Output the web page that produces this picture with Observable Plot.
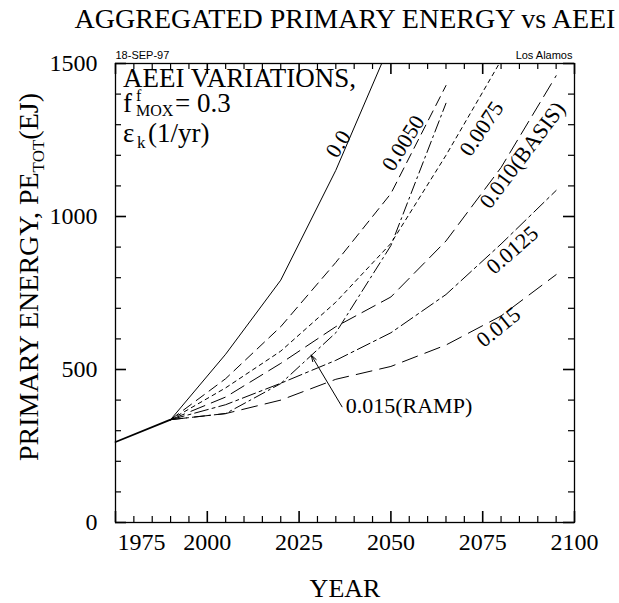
<!DOCTYPE html>
<html><head><meta charset="utf-8">
<script src="https://cdn.jsdelivr.net/npm/d3@7"></script>
<script src="https://cdn.jsdelivr.net/npm/@observablehq/plot@0.6"></script>
<style>
html,body{margin:0;padding:0;background:#fff;}
</style></head><body><div id="chart"></div>
<script>
// ---- data ----
const years = [1990, 2005, 2020, 2035, 2050, 2065, 2080, 2095];
const histYears = [1975, 1990];
const histValues = [263, 336];
const s00    = [336, 550, 792, 1151, 1570];
const s0050  = [336, 470, 640, 850, 1075, 1428];
const s0075  = [336, 440, 560, 720, 912, 1200, 1510];
const s0100  = [336, 410, 520, 640, 737, 920, 1160, 1460];
const s0125  = [336, 385, 455, 530, 620, 745, 910, 1085];
const s0150  = [336, 356, 400, 468, 510, 580, 675, 810];
const sRamp  = [336, 356, 454, 620, 905, 1370];

const labelTexts  = ["0.0", "0.0050", "0.0075", "0.010(BASIS)", "0.0125", "0.015"];
const labelYears  = [2035.7, 2053.4, 2074.7, 2085.8, 2083.1, 2079.3];
const labelValues = [1237, 1240, 1287, 1200, 890, 638];

const rampText = "0.015(RAMP)";
const rampTextYear = 2037.7, rampTextValue = 382;
const rampArrowFrom = [2036.7, 378];
const rampArrowTo   = [2028.3, 547];

const xTickLabels = [1975, 2000, 2025, 2050, 2075, 2100];
const yTickLabels = [0, 500, 1000, 1500];

const titleText = "AGGREGATED PRIMARY ENERGY vs AEEI";
const xLabel = "YEAR";
const dateText = "18-SEP-97";
const siteText = "Los Alamos";

// ---- styles ----
const serif = "Liberation Serif";
const sans = "Liberation Sans";
const labelAngles = [-58, -58, -56, -53, -41, -39];
const frameH = 459, frameW = 459;

const series = [
  {vals: s00,   dash: null},
  {vals: s0050, dash: "10,6"},
  {vals: s0075, dash: "4,4"},
  {vals: s0100, dash: "15,7"},
  {vals: s0125, dash: "14,4,3,4"},
  {vals: s0150, dash: "16,8"},
  {vals: sRamp, dash: "12,4,2,4"}
];

const rows = vals => vals.map((v, i) => ({year: years[i], value: v}));
const hist = histYears.map((y, i) => ({year: y, value: histValues[i]}));
const labels = labelTexts.map((t, i) => ({text: t, year: labelYears[i], value: labelValues[i], angle: labelAngles[i]}));

const xMinor = d3.range(1975, 2101, 5).filter(d => !xTickLabels.includes(d));
const yMinor = d3.range(0, 1501, 100).filter(d => !yTickLabels.includes(d));

const tk = {stroke: "#000"};
const tickMarks = [
  Plot.ruleX(xMinor, {x: d => d, insetTop: frameH - 6, strokeWidth: 1.2, ...tk}),
  Plot.ruleX(xTickLabels, {x: d => d, insetTop: frameH - 11, strokeWidth: 1.6, ...tk}),
  Plot.ruleX(xMinor, {x: d => d, insetBottom: frameH - 6, strokeWidth: 1.2, ...tk}),
  Plot.ruleX(xTickLabels, {x: d => d, insetBottom: frameH - 11, strokeWidth: 1.6, ...tk}),
  Plot.ruleY(yMinor, {y: d => d, insetRight: frameW - 6, strokeWidth: 1.2, ...tk}),
  Plot.ruleY(yTickLabels, {y: d => d, insetRight: frameW - 11, strokeWidth: 1.6, ...tk}),
  Plot.ruleY(yMinor, {y: d => d, insetLeft: frameW - 6, strokeWidth: 1.2, ...tk}),
  Plot.ruleY(yTickLabels, {y: d => d, insetLeft: frameW - 11, strokeWidth: 1.6, ...tk})
];

const marks = [
  ...series.map(s => Plot.line(rows(s.vals), {x: "year", y: "value", stroke: "#000", strokeWidth: 1, strokeDasharray: s.dash, clip: true})),
  Plot.line(hist, {x: "year", y: "value", stroke: "#000", strokeWidth: 1.8}),
  Plot.text(labels, {x: "year", y: "value", text: "text", rotate: "angle", fontSize: 22, fontFamily: serif, fill: "#000"}),
  Plot.arrow([{x1: rampArrowFrom[0], y1: rampArrowFrom[1], x2: rampArrowTo[0], y2: rampArrowTo[1]}],
    {x1: "x1", y1: "y1", x2: "x2", y2: "y2", stroke: "#000", strokeWidth: 1, headLength: 10, headAngle: 35}),
  Plot.text([rampText], {x: () => rampTextYear, y: () => rampTextValue, text: d => d, textAnchor: "start", fontSize: 22, fontFamily: serif, fill: "#000"}),
  ...tickMarks,
  Plot.frame({stroke: "#000", strokeWidth: 1.3}),
  Plot.text(yTickLabels, {y: d => d, text: d => String(d), frameAnchor: "left", textAnchor: "end", dx: -18, fontSize: 24, fontFamily: serif, fill: "#000"}),
  Plot.text(xTickLabels.slice(1), {x: d => d, text: d => String(d), frameAnchor: "bottom", dy: 27, fontSize: 24, fontFamily: serif, fill: "#000"}),
  Plot.text(xTickLabels.slice(0, 1), {x: d => d, text: d => String(d), frameAnchor: "bottom", dy: 27, dx: 2, textAnchor: "start", fontSize: 24, fontFamily: serif, fill: "#000"}),
  Plot.text([xLabel], {frameAnchor: "bottom", text: d => d, dy: 74, lineAnchor: "bottom", fontSize: 26, fontFamily: serif, fill: "#000"}),
  Plot.text([titleText], {frameAnchor: "top", text: d => d, dy: -36, lineAnchor: "bottom", fontSize: 28, fontFamily: serif, fill: "#000"}),
  Plot.text([dateText], {frameAnchor: "top-left", text: d => d, dy: -5, lineAnchor: "bottom", textAnchor: "start", fontSize: 11, fontFamily: sans, fill: "#000"}),
  Plot.text([siteText], {frameAnchor: "top-right", text: d => d, dy: -5, dx: -2, lineAnchor: "bottom", textAnchor: "end", fontSize: 11, fontFamily: sans, fill: "#000"})
];

const chart = Plot.plot({
  width: 619, height: 603,
  marginLeft: 115, marginRight: 45, marginTop: 63, marginBottom: 81,
  x: {domain: [1975, 2100], axis: null},
  y: {domain: [0, 1500], axis: null},
  style: {background: "#fff", color: "#000", fontFamily: serif},
  marks
});
document.getElementById("chart").appendChild(chart);

// make the requested font family stick as an inline style on every text
d3.select(chart).selectAll("[font-family]").each(function() {
  this.style.fontFamily = "'" + this.getAttribute("font-family") + "'";
});
d3.select(chart).selectAll("text").each(function() {
  const holder = this.closest("[font-family]");
  const fam = holder && holder !== chart ? holder.getAttribute("font-family") : serif;
  this.style.fontFamily = "'" + fam + "'";
});

// rich text with sub/superscripts
const svg = d3.select(chart);
const g = svg.append("g").attr("fill", "#000").attr("text-anchor", "start").style("font-family", "'Liberation Serif'");

const yl = g.append("text").attr("transform", "translate(38,277) rotate(-90)").attr("text-anchor", "middle").attr("font-size", 28).style("font-family", "'Liberation Serif'");
yl.append("tspan").text("PRIMARY ENERGY, PE");
yl.append("tspan").attr("font-size", 17).attr("dy", 6).text("TOT");
yl.append("tspan").attr("dy", -6).text("(EJ)");

g.append("text").attr("x", 123).attr("y", 87).attr("font-size", 27).style("font-family", "'Liberation Serif'").text("AEEI VARIATIONS,");
const l2 = g.append("text").attr("x", 123).attr("y", 112).attr("font-size", 27).style("font-family", "'Liberation Serif'");
l2.append("tspan").text("f");
l2.append("tspan").attr("x", 136).attr("y", 101).attr("font-size", 16).text("f");
l2.append("tspan").attr("x", 136).attr("y", 116).attr("font-size", 16).text("MOX");
l2.append("tspan").attr("x", 175).attr("y", 112).text("= 0.3");
const l3 = g.append("text").attr("x", 123).attr("y", 142).attr("font-size", 27).style("font-family", "'Liberation Serif'");
l3.append("tspan").text("\u03B5");
l3.append("tspan").attr("x", 137).attr("y", 148).attr("font-size", 17).text("k");
l3.append("tspan").attr("x", 148).attr("y", 142).text("(1/yr)");
</script>
</body></html>
